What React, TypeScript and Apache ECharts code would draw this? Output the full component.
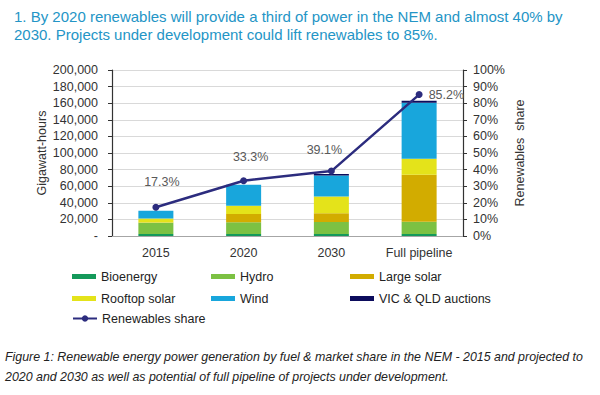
import React, { useEffect, useRef } from "react";
import * as echarts from "echarts";

const categories = ["2015", "2020", "2030", "Full pipeline"];
const bioenergy = [2500, 2500, 2500, 2500];
const hydro = [13500, 14000, 14500, 14800];
const largeSolar = [300, 10000, 10500, 56500];
const rooftopSolar = [4800, 10000, 20000, 19400];
const wind = [9300, 25300, 25300, 67300];
const auctions = [0, 0, 2000, 2400];
const renewablesShare = [17.3, 33.3, 39.1, 85.2];

const titleLines = [
  "1. By 2020 renewables will provide a third of power in the NEM and almost 40% by",
  "2030. Projects under development could lift renewables to 85%.",
];
const captionLines = [
  "Figure 1: Renewable energy power generation by fuel & market share in the NEM - 2015 and projected to",
  "2020 and 2030 as well as potential of full pipeline of projects under development.",
];

const colors = {
  bio: "#14995a",
  hydro: "#7cc143",
  large: "#d2ac00",
  rooftop: "#e4e31a",
  wind: "#18a6dc",
  auctions: "#0c0c5c",
  line: "#2c2c7e",
};

const FONT = "Liberation Sans, Arial, sans-serif";

function fmtNum(v: number) {
  if (v === 0) return "-";
  return String(v).replace(/\B(?=(\d{3})+(?!\d))/g, ",");
}

export default function App() {
  const ref = useRef<HTMLDivElement>(null);
  useEffect(() => {
    if (!ref.current) return;
    const chart = echarts.init(ref.current, undefined, { renderer: "svg" });
    const barSeries = (name: string, data: number[], color: string) => ({
      name,
      type: "bar",
      stack: "gen",
      data,
      barWidth: 35,
      itemStyle: { color },
      yAxisIndex: 0,
    });
    const labelOffsets: any[] = [
      { position: "top", offset: [6, -10] },
      { position: "top", offset: [7, -9] },
      { position: "top", offset: [-7, -6] },
      { position: "right", distance: 6, offset: [0, 0] },
    ];
    const legendText = { fontFamily: FONT, fontSize: 12.5, color: "#222" };
    const legendBase = {
      orient: "vertical",
      padding: 0,
      itemWidth: 24,
      itemHeight: 5,
      itemGap: 9,
      icon: "rect",
      textStyle: legendText,
      selectedMode: false,
    };
    const option: any = {
      animation: false,
      textStyle: { fontFamily: FONT },
      grid: { left: 112, right: 137, top: 70, bottom: 159 },
      xAxis: {
        type: "category",
        data: categories,
        axisLine: { show: true, lineStyle: { color: "#a6a6a6" } },
        axisTick: { show: false },
        axisLabel: { fontSize: 12.5, color: "#333", margin: 10, fontFamily: FONT },
      },
      yAxis: [
        {
          type: "value",
          min: 0,
          max: 200000,
          interval: 20000,
          name: "Gigawatt-hours",
          nameLocation: "middle",
          nameRotate: 90,
          nameGap: 64,
          nameMoveOverlap: false,
          nameTextStyle: { fontSize: 12.5, color: "#333", fontFamily: FONT },
          axisLine: { show: true, lineStyle: { color: "#333", width: 1.2 } },
          axisTick: { show: true, length: 4, lineStyle: { color: "#333" } },
          axisLabel: { fontSize: 12.5, color: "#333", margin: 14, formatter: fmtNum, fontFamily: FONT },
          splitLine: { show: true, lineStyle: { color: "#d9d9d9" } },
        },
        {
          type: "value",
          min: 0,
          max: 100,
          interval: 10,
          position: "right",
          name: "Renewables  share",
          nameLocation: "middle",
          nameRotate: 90,
          nameGap: 50,
          nameMoveOverlap: false,
          nameTextStyle: { fontSize: 12.5, color: "#333", fontFamily: FONT },
          axisLine: { show: true, lineStyle: { color: "#333", width: 1.2 } },
          axisTick: { show: true, length: 4, lineStyle: { color: "#333" } },
          axisLabel: { fontSize: 12.5, color: "#333", margin: 10, formatter: "{value}%", fontFamily: FONT },
          splitLine: { show: false },
        },
      ],
      legend: [
        { ...legendBase, left: 72, top: 270, data: ["Bioenergy", "Rooftop solar"] },
        { ...legendBase, left: 211, top: 270, data: ["Hydro", "Wind"] },
        { ...legendBase, left: 350, top: 270, data: ["Large solar", "VIC & QLD auctions"] },
        { ...legendBase, icon: undefined, itemHeight: 8, left: 72, top: 312, data: ["Renewables share"] },
      ],
      series: [
        barSeries("Bioenergy", bioenergy, colors.bio),
        barSeries("Hydro", hydro, colors.hydro),
        barSeries("Large solar", largeSolar, colors.large),
        barSeries("Rooftop solar", rooftopSolar, colors.rooftop),
        barSeries("Wind", wind, colors.wind),
        barSeries("VIC & QLD auctions", auctions, colors.auctions),
        {
          name: "Renewables share",
          type: "line",
          yAxisIndex: 1,
          data: renewablesShare.map((v, i) => ({ value: v, label: labelOffsets[i] })),
          symbol: "circle",
          symbolSize: 7,
          lineStyle: { color: colors.line, width: 2.5 },
          itemStyle: { color: colors.line },
          label: {
            show: true,
            formatter: (p: any) => p.value.toFixed(1) + "%",
            fontSize: 12.5,
            color: "#595959",
            fontFamily: FONT,
          },
          z: 10,
        },
      ],
      graphic: [
        ...titleLines.map((t, i) => ({
          type: "text",
          left: 14,
          top: 9 + i * 18,
          style: { text: t, fontSize: 15, fill: "#2495c6", fontFamily: FONT },
        })),
        ...captionLines.map((t, i) => ({
          type: "text",
          left: 5,
          top: 351 + i * 20,
          style: { text: t, fontSize: 12.4, fontStyle: "italic", fill: "#222", fontFamily: FONT },
        })),
      ],
    };
    chart.setOption(option);
    return () => chart.dispose();
  }, []);
  return <div ref={ref} style={{ width: 600, height: 395, position: "absolute", left: 0, top: 0, background: "#fff" }} />;
}
